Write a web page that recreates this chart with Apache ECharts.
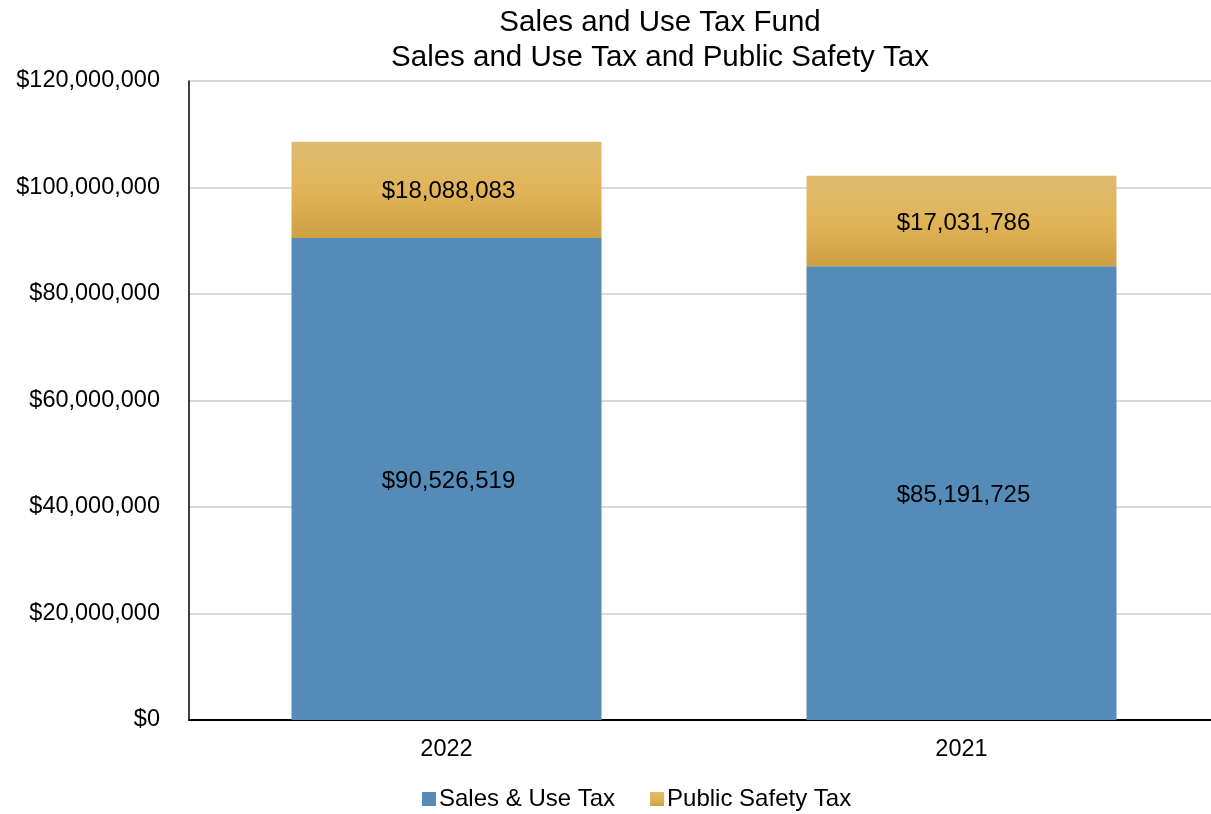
<!DOCTYPE html>
<html>
<head>
<meta charset="utf-8">
<script src="https://cdn.jsdelivr.net/npm/echarts@6/dist/echarts.min.js"></script>
<style>
  html, body { margin: 0; padding: 0; background: #fff; overflow: hidden; }
  #chart { width: 1219px; height: 814px; }
</style>
</head>
<body>
<div id="chart"></div>
<script>
// Fiscal years shown on the category axis
const years = ['2022', '2021'];
// Revenue by source (dollars)
const salesUseTax = [90526519, 85191725];
const publicSafetyTax = [18088083, 17031786];
// Value axis range
const axisMax = 120000000;
const axisStep = 20000000;

const FONT = '"Liberation Sans", Arial, sans-serif';

function money(v) {
  return '$' + Math.round(v).toString().replace(/\B(?=(\d{3})+(?!\d))/g, ',');
}

const chart = echarts.init(document.getElementById('chart'), null, { renderer: 'canvas' });

const labelStyle = {
  show: true,
  position: 'inside',
  offset: [2, 2],
  color: '#000',
  fontFamily: FONT,
  fontSize: 24,
  formatter: p => money(p.value)
};

chart.setOption({
  animation: false,
  backgroundColor: '#fff',
  title: {
    text: 'Sales and Use Tax Fund\nSales and Use Tax and Public Safety Tax',
    left: 655,
    top: 0,
    textAlign: 'center',
    textStyle: {
      fontFamily: FONT,
      fontSize: 29.5,
      fontWeight: 'normal',
      color: '#000',
      lineHeight: 35
    }
  },
  legend: {
    left: 417,
    top: 782,
    icon: 'rect',
    itemWidth: 14,
    itemHeight: 14,
    itemGap: 35,
    textStyle: { fontFamily: FONT, fontSize: 24, color: '#000', padding: [0, 0, 0, -2] },
    data: ['Sales & Use Tax', 'Public Safety Tax']
  },
  grid: { left: 189, right: 0, top: 81, bottom: 94, containLabel: false },
  xAxis: {
    type: 'category',
    data: years,
    axisLine: { lineStyle: { color: '#000', width: 2 } },
    axisTick: { show: false },
    axisLabel: { fontFamily: FONT, fontSize: 23.5, color: '#000', margin: 18 }
  },
  yAxis: {
    type: 'value',
    min: 0,
    max: axisMax,
    interval: axisStep,
    axisLine: { show: true, lineStyle: { color: '#000', width: 1.5 } },
    axisTick: { show: false },
    splitLine: { lineStyle: { color: '#d9d9d9', width: 2 } },
    axisLabel: {
      fontFamily: FONT, fontSize: 23.5, color: '#000', margin: 29,
      padding: [4, 0, 0, 0], formatter: money
    }
  },
  series: [
    {
      name: 'Sales & Use Tax',
      type: 'bar',
      stack: 'total',
      data: salesUseTax,
      barWidth: 310,
      itemStyle: { color: '#558BB9' },
      label: labelStyle
    },
    {
      name: 'Public Safety Tax',
      type: 'bar',
      stack: 'total',
      data: publicSafetyTax,
      barWidth: 310,
      itemStyle: {
        color: new echarts.graphic.LinearGradient(0, 0, 0, 1, [
          { offset: 0, color: '#DDBB71' },
          { offset: 0.5, color: '#E1B457' },
          { offset: 1, color: '#CCA043' }
        ])
      },
      label: labelStyle
    }
  ]
});
</script>
</body>
</html>
